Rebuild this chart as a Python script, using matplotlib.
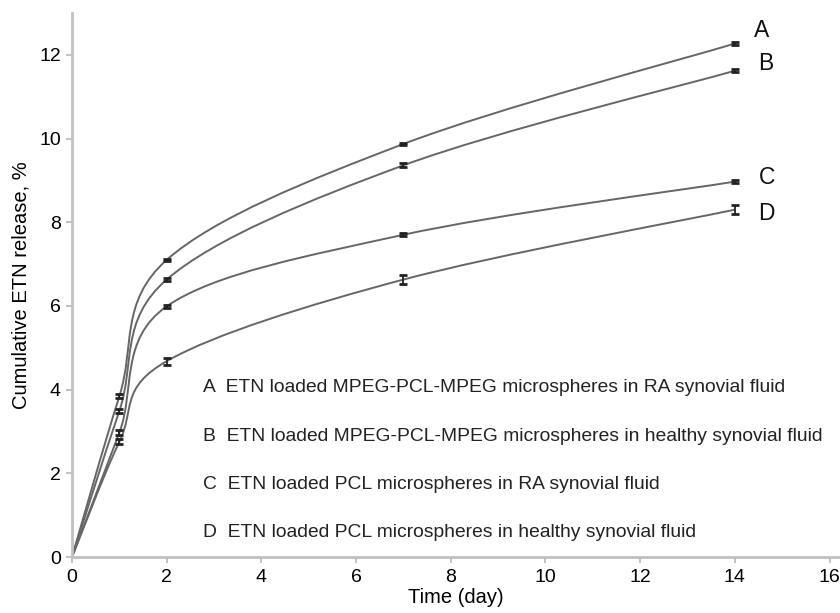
import numpy as np
import matplotlib
matplotlib.use('Agg')
import matplotlib.pyplot as plt
from matplotlib.path import Path
from matplotlib.patches import PathPatch

plt.rcParams['font.family'] = ['Liberation Sans', 'DejaVu Sans']

# время, сутки
days = [0, 1, 2, 7, 14]

# кумулятивное высвобождение, %
rel_a = [0, 3.84, 7.10, 9.87, 12.27]
rel_b = [0, 3.49, 6.63, 9.36, 11.62]
rel_c = [0, 2.97, 5.99, 7.70, 8.97]
rel_d = [0, 2.75, 4.68, 6.63, 8.30]

err_a = [0, 0.05, 0.03, 0.03, 0.03]
err_b = [0, 0.05, 0.04, 0.05, 0.04]
err_c = [0, 0.06, 0.03, 0.04, 0.03]
err_d = [0, 0.06, 0.08, 0.10, 0.10]

letters = ['A', 'B', 'C', 'D']
legend_text = [
    'A  ETN loaded MPEG-PCL-MPEG microspheres in RA synovial fluid',
    'B  ETN loaded MPEG-PCL-MPEG microspheres in healthy synovial fluid',
    'C  ETN loaded PCL microspheres in RA synovial fluid',
    'D  ETN loaded PCL microspheres in healthy synovial fluid',
]


def smooth_path(x, y):
    """
    Сглаженная линия как в Excel (кубические кривые Безье)
    :param x: координаты x точек
    :param y: координаты y точек
    :return: Path
    """
    p = np.column_stack([x, y]).astype(float)
    n = len(p)
    verts = [p[0]]
    codes = [Path.MOVETO]
    for i in range(n - 1):
        prev = p[i - 1] if i > 0 else p[i]
        nxt = p[i + 2] if i + 2 < n else p[i + 1]
        c1 = p[i] + (p[i + 1] - prev) / 6
        c2 = p[i + 1] - (nxt - p[i]) / 6
        verts += [c1, c2, p[i + 1]]
        codes += [Path.CURVE4] * 3
    return Path(verts, codes)


fig = plt.figure(figsize=(8.4, 6.13), dpi=100)
ax = fig.add_axes([72 / 840, 56 / 613, (839 - 72) / 840, (557 - 13) / 613])

series = [(rel_a, err_a), (rel_b, err_b), (rel_c, err_c), (rel_d, err_d)]
line_col = '#666666'

for rel, err in series:
    ax.add_patch(PathPatch(smooth_path(days, rel), fc='none', ec=line_col, lw=1.4))
    ax.errorbar(days[1:], rel[1:], yerr=err[1:], fmt='none', ecolor='#222222',
                elinewidth=1.3, capsize=3, capthick=2)

# буквы у концов кривых
lab_x = [14.4, 14.5, 14.5, 14.5]
lab_y = [12.58, 11.79, 9.07, 8.21]
for s, xx, yy in zip(letters, lab_x, lab_y):
    ax.text(xx, yy, s, fontsize=16.5, ha='left', va='center', color='#111111')

# подписи кривых
for k, t in enumerate(legend_text):
    ax.text(2.76, 4.04 - k * 1.15, t, fontsize=13.9, ha='left', va='center', color='#222222')

ax.set_xlim(0, 16.2)
ax.set_ylim(0, 13)
ax.set_xticks(np.arange(0, 17, 2))
ax.set_yticks(np.arange(0, 13, 2))
ax.tick_params(labelsize=14, length=4, width=1.2, color='#b8b8b8')
ax.tick_params(axis='x', pad=5)
ax.tick_params(axis='y', pad=4)
for side in ['top', 'right']:
    ax.spines[side].set_visible(False)
for side in ['left', 'bottom']:
    ax.spines[side].set_color('#c0c0c0')
    ax.spines[side].set_linewidth(2)

ax.set_xlabel('Time (day)', fontsize=14.5, labelpad=1)
ax.set_ylabel('Cumulative ETN release, %', fontsize=14.5, labelpad=6)

fig.savefig('out.png', dpi=100)
